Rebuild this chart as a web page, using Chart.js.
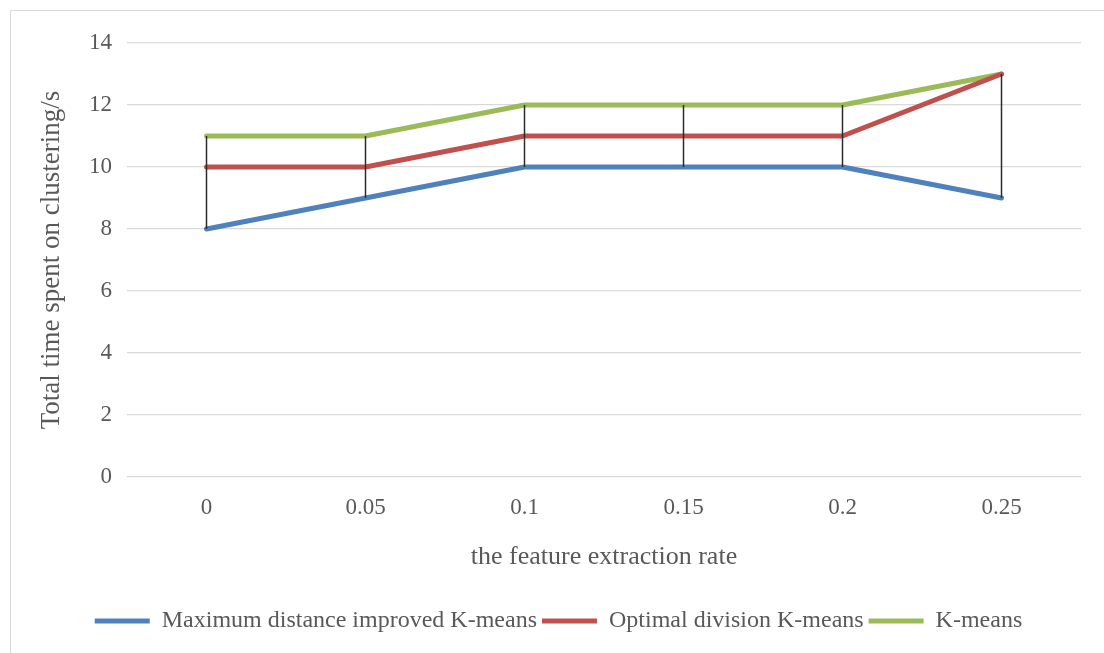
<!DOCTYPE html>
<html>
<head>
<meta charset="utf-8">
<script src="https://cdn.jsdelivr.net/npm/chart.js@4/dist/chart.umd.min.js"></script>
<style>
  html, body { margin: 0; padding: 0; background: #fff; overflow: hidden; }
  .frame { position: fixed; left: 10px; top: 10px; width: 1200px; height: 700px; border: 1px solid #d9d9d9; }
  #myChart { position: absolute; left: 0; top: 0; }
</style>
</head>
<body>
<div class="frame"></div>
<canvas id="myChart" width="1104" height="653"></canvas>
<script>
// данные графика
const rates = ['0', '0.05', '0.1', '0.15', '0.2', '0.25'];
const maxDistanceKm = [8, 9, 10, 10, 10, 9];
const optimalDivisionKm = [10, 10, 11, 11, 11, 13];
const plainKm = [11, 11, 12, 12, 12, 13];
const yTicks = [0, 2, 4, 6, 8, 10, 12, 14];

const textColor = '#595959';
const serif = '"Liberation Serif", "Times New Roman", serif';

// high-low линии как в Excel: от минимума до максимума в каждой категории
const highLowLines = {
  id: 'highLowLines',
  afterDatasetsDraw(chart) {
    const {ctx, scales: {x, y}} = chart;
    ctx.save();
    ctx.strokeStyle = '#2b2b2b';
    ctx.lineWidth = 1.5;
    rates.forEach((r, i) => {
      const vals = chart.data.datasets.map(ds => ds.data[i]);
      const px = x.getPixelForValue(i);
      ctx.beginPath();
      ctx.moveTo(px, y.getPixelForValue(Math.min(...vals)));
      ctx.lineTo(px, y.getPixelForValue(Math.max(...vals)));
      ctx.stroke();
    });
    ctx.restore();
  }
};

function lineSet(label, data, color) {
  return {
    label: label,
    data: data,
    borderColor: color,
    backgroundColor: color,
    borderWidth: 5,
    borderCapStyle: 'round',
    borderJoinStyle: 'round',
    pointRadius: 0,
    pointHoverRadius: 0,
    tension: 0,
    fill: false
  };
}

const config = {
  type: 'line',
  data: {
    labels: rates,
    datasets: [
      lineSet('Maximum distance improved K-means', maxDistanceKm, '#4F81BD'),
      lineSet('Optimal division K-means', optimalDivisionKm, '#C0504D'),
      lineSet('K-means', plainKm, '#9BBB59')
    ]
  },
  options: {
    responsive: false,
    animation: false,
    devicePixelRatio: 1,
    layout: { padding: { top: 43, right: 23, bottom: 10, left: 36 } },
    plugins: {
      tooltip: { enabled: false },
      legend: {
        display: true,
        position: 'bottom',
        labels: {
          usePointStyle: true,
          pointStyle: 'line',
          pointStyleWidth: 55,
          padding: 5,
          color: textColor,
          font: { family: serif, size: 24 }
        }
      }
    },
    scales: {
      x: {
        offset: true,
        grid: { display: false, drawTicks: false },
        border: { display: false },
        ticks: { color: textColor, padding: 17, font: { family: serif, size: 23 } },
        title: {
          display: true,
          text: 'the feature extraction rate',
          color: textColor,
          font: { family: serif, size: 26 },
          padding: { top: 0, bottom: 31 }
        },
        afterFit(scale) { scale.height = 127; }
      },
      y: {
        min: 0,
        max: 14,
        afterBuildTicks(scale) { scale.ticks = yTicks.map(v => ({ value: v })); },
        grid: { color: '#d9d9d9', lineWidth: 1.3, drawTicks: false },
        border: { display: false },
        ticks: { color: textColor, padding: 15, font: { family: serif, size: 23 } },
        title: {
          display: true,
          text: 'Total time spent on clustering/s',
          color: textColor,
          font: { family: serif, size: 27 },
          padding: { top: 0, bottom: 0 }
        },
        afterFit(scale) { scale.width = 91; }
      }
    }
  },
  plugins: [highLowLines]
};

const myChart = new Chart(document.getElementById('myChart'), config);
</script>
</body>
</html>
